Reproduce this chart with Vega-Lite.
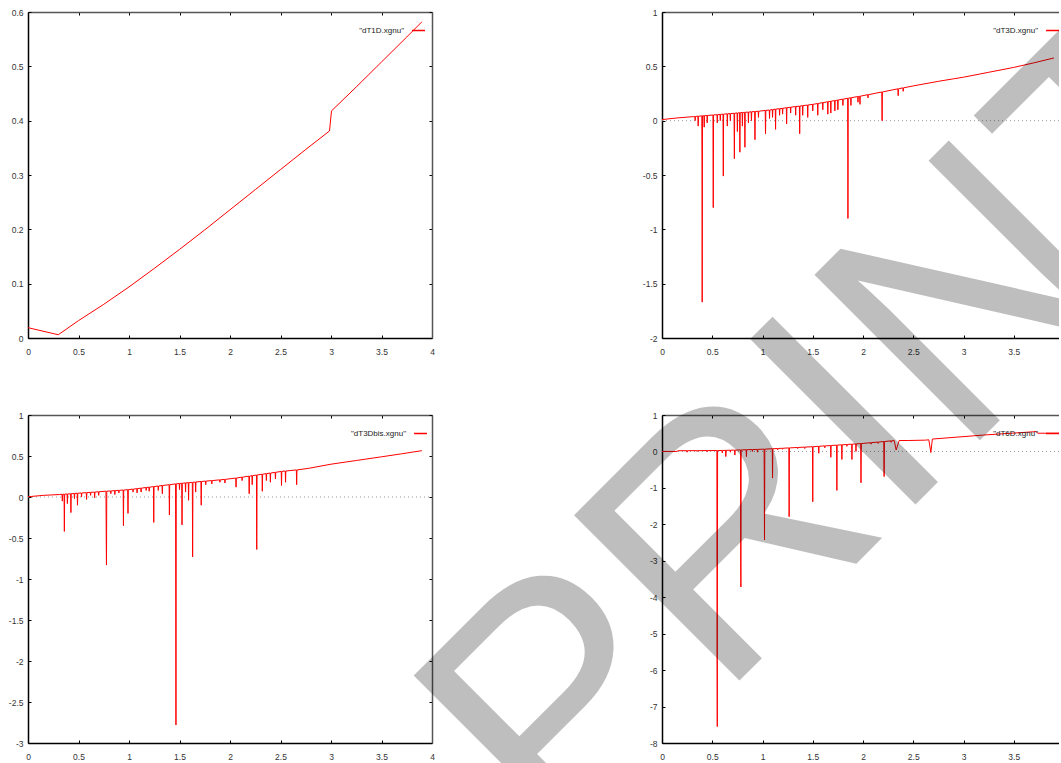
{
  "$schema": "https://vega.github.io/schema/vega-lite/v6.json",
  "background": "white",
  "padding": {"left": 8, "top": -53, "right": -270, "bottom": -146},
  "bounds": "flush",
  "align": "each",
  "columns": 2,
  "spacing": {"row": 77, "column": 230},
  "config": {
    "view": {"stroke": null},
    "axis": {"title": null, "grid": false, "labelFont": "Liberation Sans", "labelFontSize": 8.5, "labelColor": "#333", "tickColor": "#000", "tickSize": -3, "tickWidth": 1, "domainColor": "#000", "domainWidth": 1.5, "labelFlush": false, "labelOverlap": false, "labelBound": false},
    "legend": {"orient": "none", "legendX": 383, "legendY": 11, "padding": 0, "title": null, "symbolType": "stroke", "symbolSize": 169, "symbolStrokeWidth": 1.5, "labelAlign": "right", "labelOffset": -22, "labelFont": "Liberation Sans", "labelFontSize": 8, "labelColor": "#222"}
  },
  "datasets": {
    "p1": [{"x":0,"y":0.019},{"x":0.3,"y":0.006},{"x":0.5,"y":0.032},{"x":0.75,"y":0.062},{"x":1,"y":0.094},{"x":1.25,"y":0.128},{"x":1.5,"y":0.163},{"x":1.75,"y":0.199},{"x":2,"y":0.236},{"x":2.25,"y":0.273},{"x":2.5,"y":0.31},{"x":2.75,"y":0.347},{"x":2.985,"y":0.381},{"x":3.005,"y":0.418},{"x":3.25,"y":0.462},{"x":3.5,"y":0.508},{"x":3.75,"y":0.554},{"x":3.9,"y":0.582}],
    "p2": [{"x":0,"y":0.01},{"x":0.15,"y":0.025},{"x":0.31,"y":0.037},
      {"x":0.327,"y":0.038},{"x":0.33,"y":0.0},{"x":0.333,"y":0.039},
      {"x":0.357,"y":0.041},{"x":0.36,"y":-0.05},{"x":0.363,"y":0.041},
      {"x":0.396,"y":0.044},{"x":0.398,"y":-0.4},{"x":0.4,"y":-1.67},{"x":0.403,"y":0.045},
      {"x":0.417,"y":0.045},{"x":0.42,"y":-0.06},{"x":0.423,"y":0.046},
      {"x":0.447,"y":0.048},{"x":0.45,"y":-0.02},{"x":0.453,"y":0.048},
      {"x":0.507,"y":0.052},{"x":0.51,"y":-0.8},{"x":0.513,"y":0.053},
      {"x":0.547,"y":0.055},{"x":0.55,"y":-0.02},{"x":0.553,"y":0.055},
      {"x":0.577,"y":0.058},{"x":0.58,"y":0.0},{"x":0.583,"y":0.058},
      {"x":0.607,"y":0.06},{"x":0.61,"y":-0.51},{"x":0.613,"y":0.06},
      {"x":0.647,"y":0.063},{"x":0.65,"y":-0.05},{"x":0.653,"y":0.063},
      {"x":0.677,"y":0.065},{"x":0.68,"y":0.0},{"x":0.683,"y":0.065},
      {"x":0.717,"y":0.068},{"x":0.72,"y":-0.35},{"x":0.723,"y":0.068},
      {"x":0.747,"y":0.071},{"x":0.75,"y":-0.1},{"x":0.753,"y":0.071},
      {"x":0.772,"y":0.073},{"x":0.775,"y":-0.29},{"x":0.778,"y":0.073},
      {"x":0.797,"y":0.075},{"x":0.8,"y":-0.05},{"x":0.803,"y":0.075},
      {"x":0.822,"y":0.077},{"x":0.825,"y":-0.245},{"x":0.828,"y":0.077},
      {"x":0.857,"y":0.079},{"x":0.86,"y":-0.02},{"x":0.863,"y":0.079},
      {"x":0.887,"y":0.082},{"x":0.89,"y":0.0},{"x":0.893,"y":0.082},
      {"x":0.922,"y":0.084},{"x":0.925,"y":-0.175},{"x":0.928,"y":0.084},
      {"x":0.957,"y":0.087},{"x":0.96,"y":0.03},{"x":0.963,"y":0.087},
      {"x":1.027,"y":0.094},{"x":1.03,"y":-0.12},{"x":1.033,"y":0.094},
      {"x":1.067,"y":0.098},{"x":1.07,"y":0.02},{"x":1.073,"y":0.098},
      {"x":1.097,"y":0.102},{"x":1.1,"y":0.03},{"x":1.103,"y":0.102},
      {"x":1.127,"y":0.106},{"x":1.13,"y":-0.08},{"x":1.133,"y":0.106},
      {"x":1.167,"y":0.11},{"x":1.17,"y":0.05},{"x":1.173,"y":0.11},
      {"x":1.197,"y":0.114},{"x":1.2,"y":0.06},{"x":1.203,"y":0.114},
      {"x":1.237,"y":0.119},{"x":1.24,"y":-0.03},{"x":1.243,"y":0.119},
      {"x":1.277,"y":0.124},{"x":1.28,"y":0.07},{"x":1.283,"y":0.124},
      {"x":1.327,"y":0.13},{"x":1.33,"y":0.05},{"x":1.333,"y":0.13},
      {"x":1.367,"y":0.134},{"x":1.37,"y":-0.12},{"x":1.373,"y":0.134},
      {"x":1.397,"y":0.138},{"x":1.4,"y":0.05},{"x":1.403,"y":0.138},
      {"x":1.447,"y":0.144},{"x":1.45,"y":0.03},{"x":1.453,"y":0.144},
      {"x":1.497,"y":0.15},{"x":1.5,"y":0.09},{"x":1.503,"y":0.15},
      {"x":1.547,"y":0.158},{"x":1.55,"y":0.05},{"x":1.553,"y":0.158},
      {"x":1.597,"y":0.166},{"x":1.6,"y":0.1},{"x":1.603,"y":0.166},
      {"x":1.647,"y":0.174},{"x":1.65,"y":0.06},{"x":1.653,"y":0.174},
      {"x":1.677,"y":0.179},{"x":1.68,"y":0.07},{"x":1.683,"y":0.179},
      {"x":1.717,"y":0.185},{"x":1.72,"y":0.09},{"x":1.723,"y":0.185},
      {"x":1.747,"y":0.19},{"x":1.75,"y":0.1},{"x":1.753,"y":0.19},
      {"x":1.797,"y":0.198},{"x":1.8,"y":0.14},{"x":1.803,"y":0.198},
      {"x":1.847,"y":0.206},{"x":1.849,"y":-0.35},{"x":1.85,"y":-0.9},{"x":1.853,"y":0.206},
      {"x":1.877,"y":0.211},{"x":1.88,"y":0.14},{"x":1.883,"y":0.211},
      {"x":1.947,"y":0.222},{"x":1.95,"y":0.17},{"x":1.953,"y":0.222},
      {"x":1.967,"y":0.225},{"x":1.97,"y":0.15},{"x":1.973,"y":0.225},
      {"x":2.047,"y":0.239},{"x":2.05,"y":0.21},{"x":2.053,"y":0.239},
      {"x":2.187,"y":0.264},{"x":2.19,"y":0.0},{"x":2.193,"y":0.264},
      {"x":2.347,"y":0.293},{"x":2.35,"y":0.23},{"x":2.353,"y":0.293},
      {"x":2.397,"y":0.302},{"x":2.4,"y":0.27},{"x":2.403,"y":0.302},
      {"x":2.5,"y":0.32},{"x":2.75,"y":0.362},{"x":2.9,"y":0.385},{"x":3.0,"y":0.4},{"x":3.25,"y":0.445},{"x":3.5,"y":0.49},{"x":3.7,"y":0.532},{"x":3.9,"y":0.577}],
    "p3": [{"x":0,"y":0.003},{"x":0.15,"y":0.02},{"x":0.31,"y":0.03},
      {"x":0.337,"y":0.033},{"x":0.34,"y":-0.05},{"x":0.343,"y":0.033},
      {"x":0.357,"y":0.034},{"x":0.36,"y":-0.42},{"x":0.363,"y":0.034},
      {"x":0.387,"y":0.037},{"x":0.39,"y":-0.08},{"x":0.393,"y":0.037},
      {"x":0.422,"y":0.04},{"x":0.425,"y":-0.19},{"x":0.428,"y":0.04},
      {"x":0.457,"y":0.043},{"x":0.46,"y":-0.02},{"x":0.463,"y":0.043},
      {"x":0.487,"y":0.046},{"x":0.49,"y":-0.1},{"x":0.493,"y":0.046},
      {"x":0.527,"y":0.049},{"x":0.53,"y":0.0},{"x":0.533,"y":0.049},
      {"x":0.577,"y":0.053},{"x":0.58,"y":-0.03},{"x":0.583,"y":0.053},
      {"x":0.617,"y":0.057},{"x":0.62,"y":0.02},{"x":0.623,"y":0.057},
      {"x":0.657,"y":0.06},{"x":0.66,"y":-0.01},{"x":0.663,"y":0.06},
      {"x":0.697,"y":0.064},{"x":0.7,"y":0.02},{"x":0.703,"y":0.064},
      {"x":0.772,"y":0.071},{"x":0.775,"y":-0.58},{"x":0.777,"y":-0.83},{"x":0.78,"y":0.071},
      {"x":0.817,"y":0.074},{"x":0.82,"y":0.04},{"x":0.823,"y":0.074},
      {"x":0.857,"y":0.078},{"x":0.86,"y":0.03},{"x":0.863,"y":0.078},
      {"x":0.897,"y":0.081},{"x":0.9,"y":0.05},{"x":0.903,"y":0.081},
      {"x":0.942,"y":0.085},{"x":0.945,"y":-0.35},{"x":0.948,"y":0.085},
      {"x":0.987,"y":0.089},{"x":0.99,"y":-0.2},{"x":0.993,"y":0.089},
      {"x":1.037,"y":0.096},{"x":1.04,"y":0.06},{"x":1.043,"y":0.096},
      {"x":1.077,"y":0.102},{"x":1.08,"y":0.05},{"x":1.083,"y":0.102},
      {"x":1.117,"y":0.108},{"x":1.12,"y":0.06},{"x":1.123,"y":0.108},
      {"x":1.167,"y":0.116},{"x":1.17,"y":0.08},{"x":1.173,"y":0.116},
      {"x":1.197,"y":0.12},{"x":1.2,"y":0.07},{"x":1.203,"y":0.12},
      {"x":1.242,"y":0.127},{"x":1.245,"y":-0.31},{"x":1.248,"y":0.127},
      {"x":1.287,"y":0.134},{"x":1.29,"y":0.08},{"x":1.293,"y":0.134},
      {"x":1.327,"y":0.14},{"x":1.33,"y":0.04},{"x":1.333,"y":0.14},
      {"x":1.397,"y":0.15},{"x":1.4,"y":-0.22},{"x":1.403,"y":0.15},
      {"x":1.461,"y":0.16},{"x":1.463,"y":-1.32},{"x":1.465,"y":-2.78},{"x":1.468,"y":0.16},
      {"x":1.497,"y":0.165},{"x":1.5,"y":0.09},{"x":1.503,"y":0.165},
      {"x":1.522,"y":0.168},{"x":1.525,"y":-0.34},{"x":1.528,"y":0.168},
      {"x":1.557,"y":0.172},{"x":1.56,"y":0.06},{"x":1.563,"y":0.172},
      {"x":1.587,"y":0.175},{"x":1.59,"y":-0.04},{"x":1.593,"y":0.175},
      {"x":1.627,"y":0.179},{"x":1.63,"y":-0.73},{"x":1.633,"y":0.179},
      {"x":1.657,"y":0.183},{"x":1.66,"y":0.06},{"x":1.663,"y":0.183},
      {"x":1.712,"y":0.189},{"x":1.715,"y":-0.1},{"x":1.718,"y":0.189},
      {"x":1.757,"y":0.194},{"x":1.76,"y":0.15},{"x":1.763,"y":0.194},
      {"x":1.817,"y":0.2},{"x":1.82,"y":0.16},{"x":1.823,"y":0.2},
      {"x":1.897,"y":0.209},{"x":1.9,"y":0.18},{"x":1.903,"y":0.209},
      {"x":1.947,"y":0.215},{"x":1.95,"y":0.17},{"x":1.953,"y":0.215},
      {"x":2.057,"y":0.231},{"x":2.06,"y":0.12},{"x":2.063,"y":0.231},
      {"x":2.117,"y":0.242},{"x":2.12,"y":0.2},{"x":2.123,"y":0.242},
      {"x":2.187,"y":0.254},{"x":2.19,"y":0.04},{"x":2.193,"y":0.254},
      {"x":2.217,"y":0.26},{"x":2.22,"y":0.15},{"x":2.223,"y":0.26},
      {"x":2.262,"y":0.268},{"x":2.264,"y":-0.48},{"x":2.265,"y":-0.64},{"x":2.268,"y":0.268},
      {"x":2.317,"y":0.278},{"x":2.32,"y":0.07},{"x":2.323,"y":0.278},
      {"x":2.357,"y":0.285},{"x":2.36,"y":0.2},{"x":2.363,"y":0.285},
      {"x":2.397,"y":0.292},{"x":2.4,"y":0.18},{"x":2.403,"y":0.292},
      {"x":2.447,"y":0.301},{"x":2.45,"y":0.22},{"x":2.453,"y":0.301},
      {"x":2.507,"y":0.312},{"x":2.51,"y":0.14},{"x":2.513,"y":0.312},
      {"x":2.547,"y":0.317},{"x":2.55,"y":0.18},{"x":2.553,"y":0.317},
      {"x":2.657,"y":0.33},{"x":2.66,"y":0.15},{"x":2.663,"y":0.33},
      {"x":2.78,"y":0.35},{"x":3.0,"y":0.4},{"x":3.25,"y":0.445},{"x":3.5,"y":0.49},{"x":3.7,"y":0.527},{"x":3.9,"y":0.565}],
    "p4": [{"x":0,"y":0.0},{"x":0.15,"y":0.0},{"x":0.16,"y":0.02},
      {"x":0.247,"y":0.021},{"x":0.25,"y":-0.02},{"x":0.253,"y":0.021},
      {"x":0.347,"y":0.022},{"x":0.35,"y":0.0},{"x":0.353,"y":0.022},
      {"x":0.447,"y":0.024},{"x":0.45,"y":-0.01},{"x":0.453,"y":0.024},
      {"x":0.546,"y":0.025},{"x":0.548,"y":-5.6},{"x":0.55,"y":-7.55},{"x":0.553,"y":0.025},
      {"x":0.597,"y":0.027},{"x":0.6,"y":-0.04},{"x":0.603,"y":0.027},
      {"x":0.632,"y":0.03},{"x":0.635,"y":-0.14},{"x":0.638,"y":0.03},
      {"x":0.677,"y":0.034},{"x":0.68,"y":-0.02},{"x":0.683,"y":0.034},
      {"x":0.722,"y":0.037},{"x":0.725,"y":-0.1},{"x":0.728,"y":0.037},
      {"x":0.781,"y":0.042},{"x":0.783,"y":-3.05},{"x":0.785,"y":-3.72},{"x":0.788,"y":0.042},
      {"x":0.837,"y":0.047},{"x":0.84,"y":-0.14},{"x":0.843,"y":0.047},
      {"x":0.897,"y":0.052},{"x":0.9,"y":0.0},{"x":0.903,"y":0.052},
      {"x":0.947,"y":0.056},{"x":0.95,"y":-0.02},{"x":0.953,"y":0.056},
      {"x":1.016,"y":0.063},{"x":1.018,"y":-1.15},{"x":1.02,"y":-2.43},{"x":1.023,"y":0.063},
      {"x":1.097,"y":0.074},{"x":1.1,"y":-0.73},{"x":1.103,"y":0.074},
      {"x":1.147,"y":0.081},{"x":1.15,"y":0.04},{"x":1.153,"y":0.081},
      {"x":1.197,"y":0.088},{"x":1.2,"y":0.06},{"x":1.203,"y":0.088},
      {"x":1.262,"y":0.097},{"x":1.265,"y":-1.79},{"x":1.268,"y":0.097},
      {"x":1.347,"y":0.109},{"x":1.35,"y":0.08},{"x":1.353,"y":0.109},
      {"x":1.417,"y":0.119},{"x":1.42,"y":0.08},{"x":1.423,"y":0.119},
      {"x":1.497,"y":0.13},{"x":1.5,"y":-1.38},{"x":1.503,"y":0.13},
      {"x":1.557,"y":0.141},{"x":1.56,"y":-0.05},{"x":1.563,"y":0.141},
      {"x":1.617,"y":0.152},{"x":1.62,"y":0.1},{"x":1.623,"y":0.152},
      {"x":1.677,"y":0.162},{"x":1.68,"y":-0.16},{"x":1.683,"y":0.162},
      {"x":1.737,"y":0.173},{"x":1.74,"y":-1.07},{"x":1.743,"y":0.173},
      {"x":1.787,"y":0.182},{"x":1.79,"y":-0.22},{"x":1.793,"y":0.182},
      {"x":1.837,"y":0.191},{"x":1.84,"y":0.14},{"x":1.843,"y":0.191},
      {"x":1.887,"y":0.2},{"x":1.89,"y":-0.22},{"x":1.893,"y":0.2},
      {"x":1.927,"y":0.207},{"x":1.93,"y":0.0},{"x":1.933,"y":0.207},
      {"x":1.977,"y":0.216},{"x":1.98,"y":-0.86},{"x":1.983,"y":0.216},
      {"x":2.077,"y":0.24},{"x":2.08,"y":0.2},{"x":2.083,"y":0.24},
      {"x":2.147,"y":0.257},{"x":2.15,"y":0.22},{"x":2.153,"y":0.257},
      {"x":2.207,"y":0.272},{"x":2.21,"y":-0.69},{"x":2.213,"y":0.272},
      {"x":2.277,"y":0.29},{"x":2.28,"y":0.25},{"x":2.283,"y":0.29},
      {"x":2.31,"y":0.3},{"x":2.33,"y":0.04},{"x":2.36,"y":0.3},
      {"x":2.45,"y":0.3},{"x":2.62,"y":0.31},{"x":2.655,"y":0.32},{"x":2.675,"y":-0.03},{"x":2.69,"y":0.34},{"x":3.2,"y":0.45},{"x":3.7,"y":0.54},{"x":3.72,"y":0.55},{"x":3.74,"y":0.5},{"x":3.97,"y":0.5}]
  },
  "concat": [
    {
      "width": 404, "height": 326,
      "data": {"name": "p1"},
      "layer": [
        {"data": {"values": [{}]},
         "mark": {"type": "rule", "strokeDash": [1, 3], "color": "#999", "strokeWidth": 1, "opacity": 0},
         "encoding": {
           "x": {"datum": 0, "type": "quantitative", "scale": {"domain": [0, 4], "nice": false, "zero": false}, "axis": {"orient": "top", "labels": false, "values": [0,0.5,1,1.5,2,2.5,3,3.5,4], "domainColor": "#555"}},
           "x2": {"datum": 4},
           "y": {"datum": 0, "type": "quantitative", "scale": {"domain": [0, 0.6], "nice": false, "zero": false}, "axis": {"orient": "right", "labels": false, "values": [0,0.1,0.2,0.3,0.4,0.5,0.6], "domainColor": "#555"}}
         }},
        {"mark": {"type": "line", "strokeWidth": 1, "clip": true},
         "encoding": {
           "x": {"field": "x", "type": "quantitative", "axis": {"orient": "bottom", "values": [0,0.5,1,1.5,2,2.5,3,3.5,4], "labelPadding": 12, "labelExpr": "'' + datum.value"}},
           "y": {"field": "y", "type": "quantitative", "axis": {"orient": "left", "values": [0,0.1,0.2,0.3,0.4,0.5,0.6], "labelPadding": 8, "labelExpr": "'' + datum.value"}},
           "color": {"datum": "\"dT1D.xgnu\"", "type": "nominal", "scale": {"range": ["#ff0000"]}}
         }}
      ],
      "resolve": {"axis": {"x": "independent", "y": "independent"}}
    },
    {
      "width": 399, "height": 326,
      "data": {"name": "p2"},
      "layer": [
        {"data": {"values": [{}]},
         "mark": {"type": "rule", "strokeDash": [1, 3], "color": "#999", "strokeWidth": 1},
         "encoding": {
           "x": {"datum": 0, "type": "quantitative", "scale": {"domain": [0, 3.97], "nice": false, "zero": false}, "axis": {"orient": "top", "labels": false, "values": [0,0.5,1,1.5,2,2.5,3,3.5], "domainColor": "#555"}},
           "x2": {"datum": 3.97},
           "y": {"datum": 0, "type": "quantitative", "scale": {"domain": [-2, 1], "nice": false, "zero": false}, "axis": null}
         }},
        {"mark": {"type": "line", "strokeWidth": 1, "clip": true},
         "encoding": {
           "x": {"field": "x", "type": "quantitative", "axis": {"orient": "bottom", "values": [0,0.5,1,1.5,2,2.5,3,3.5], "labelPadding": 12, "labelExpr": "'' + datum.value"}},
           "y": {"field": "y", "type": "quantitative", "axis": {"orient": "left", "values": [-2,-1.5,-1,-0.5,0,0.5,1], "labelPadding": 8, "labelExpr": "'' + datum.value"}},
           "color": {"datum": "\"dT3D.xgnu\"", "type": "nominal", "scale": {"range": ["#ff0000"]}}
         }}
      ],
      "resolve": {"axis": {"x": "independent", "y": "independent"}}
    },
    {
      "width": 404, "height": 328,
      "data": {"name": "p3"},
      "layer": [
        {"data": {"values": [{}]},
         "mark": {"type": "rule", "strokeDash": [1, 3], "color": "#999", "strokeWidth": 1},
         "encoding": {
           "x": {"datum": 0, "type": "quantitative", "scale": {"domain": [0, 4], "nice": false, "zero": false}, "axis": {"orient": "top", "labels": false, "values": [0,0.5,1,1.5,2,2.5,3,3.5,4], "domainColor": "#555"}},
           "x2": {"datum": 4},
           "y": {"datum": 0, "type": "quantitative", "scale": {"domain": [-3, 1], "nice": false, "zero": false}, "axis": {"orient": "right", "labels": false, "values": [-3,-2.5,-2,-1.5,-1,-0.5,0,0.5,1], "domainColor": "#555"}}
         }},
        {"mark": {"type": "line", "strokeWidth": 1, "clip": true},
         "encoding": {
           "x": {"field": "x", "type": "quantitative", "axis": {"orient": "bottom", "values": [0,0.5,1,1.5,2,2.5,3,3.5,4], "labelPadding": 12, "labelExpr": "'' + datum.value"}},
           "y": {"field": "y", "type": "quantitative", "axis": {"orient": "left", "values": [-3,-2.5,-2,-1.5,-1,-0.5,0,0.5,1], "labelPadding": 8, "labelExpr": "'' + datum.value"}},
           "color": {"datum": "\"dT3Dbis.xgnu\"", "type": "nominal", "scale": {"range": ["#ff0000"]}, "legend": {"legendX": 385}}
         }}
      ],
      "resolve": {"axis": {"x": "independent", "y": "independent"}}
    },
    {
      "width": 399, "height": 328,
      "data": {"name": "p4"},
      "layer": [
        {"data": {"values": [{}]},
         "mark": {"type": "rule", "strokeDash": [1, 3], "color": "#999", "strokeWidth": 1},
         "encoding": {
           "x": {"datum": 0, "type": "quantitative", "scale": {"domain": [0, 3.97], "nice": false, "zero": false}, "axis": {"orient": "top", "labels": false, "values": [0,0.5,1,1.5,2,2.5,3,3.5], "domainColor": "#555"}},
           "x2": {"datum": 3.97},
           "y": {"datum": 0, "type": "quantitative", "scale": {"domain": [-8, 1], "nice": false, "zero": false}, "axis": null}
         }},
        {"mark": {"type": "line", "strokeWidth": 1, "clip": true},
         "encoding": {
           "x": {"field": "x", "type": "quantitative", "axis": {"orient": "bottom", "values": [0,0.5,1,1.5,2,2.5,3,3.5], "labelPadding": 12, "labelExpr": "'' + datum.value"}},
           "y": {"field": "y", "type": "quantitative", "axis": {"orient": "left", "values": [-8,-7,-6,-5,-4,-3,-2,-1,0,1], "labelPadding": 8, "labelExpr": "'' + datum.value"}},
           "color": {"datum": "\"dT6D.xgnu\"", "type": "nominal", "scale": {"range": ["#ff0000"]}}
         }},
        {"data": {"values": [{}]},
         "mark": {"type": "text", "text": "PRINT", "font": "Liberation Sans", "fontSize": 340, "angle": 315, "align": "center", "baseline": "alphabetic", "color": "#000", "opacity": 0.25},
         "encoding": {
           "x": {"datum": 2.567, "type": "quantitative", "axis": null},
           "y": {"datum": -1.333, "type": "quantitative", "axis": null}
         }}
      ],
      "resolve": {"axis": {"x": "independent", "y": "independent"}}
    }
  ],
  "resolve": {"scale": {"color": "independent"}, "legend": {"color": "independent"}}
}
